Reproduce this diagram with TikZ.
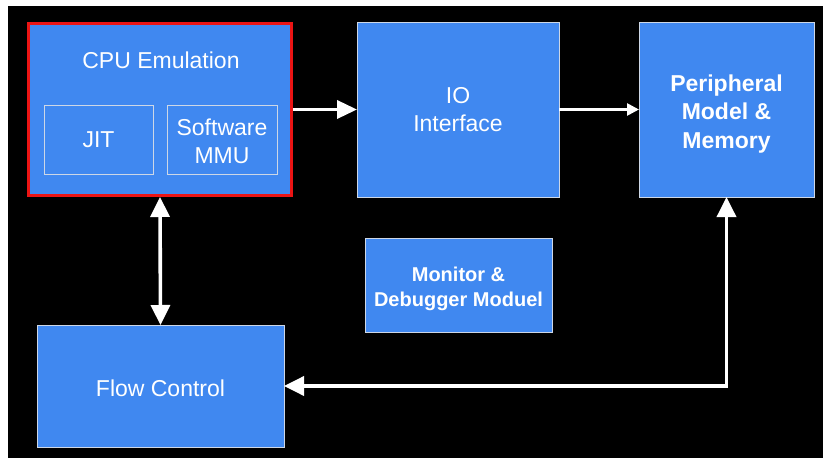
\documentclass[tikz,border=0pt]{standalone}
\usepackage{fontspec}
\setmainfont{Liberation Sans}
\usetikzlibrary{arrows.meta}
\definecolor{boxblue}{RGB}{64,136,240}
\definecolor{edgegray}{RGB}{205,215,230}
\definecolor{redframe}{RGB}{235,20,20}
\newcommand{\lift}[1]{\rule{0pt}{#1}}
\begin{document}
\begin{tikzpicture}[x=1pt,y=-1pt,
  blk/.style={draw=edgegray, line width=0.8pt, fill=boxblue, text=white, align=center, inner sep=0pt, outer sep=0pt},
  sub/.style={draw=edgegray, line width=0.8pt, fill=boxblue, text=white, align=center, inner sep=0pt, outer sep=0pt},
  reg/.style={font=\fontsize{23}{28}\selectfont},
  bld/.style={font=\fontsize{23}{28.5}\selectfont\bfseries},
  bigarrow/.style={draw=white, line width=3.6pt, -{Triangle[length=20pt,width=18pt]}},
  bigdouble/.style={draw=white, line width=3.6pt, {Triangle[length=20pt,width=19pt]}-{Triangle[length=20pt,width=19pt]}},
  smallarrow/.style={draw=white, line width=2.6pt, -{Triangle[length=12pt,width=12pt]}}
]
\useasboundingbox (0,0) rectangle (823,458);
\fill[white] (0,0) rectangle (823,458);
\fill[black] (8,6) rectangle (823,458);

% CPU Emulation block
\node[draw=redframe, line width=3pt, fill=boxblue, minimum width=263pt, minimum height=172pt, inner sep=0pt] (cpu) at (160,109.5) {};
\node[text=white, reg] (cputitle) at (161,60) {CPU Emulation};
\node[sub, reg, minimum width=109pt, minimum height=69pt] (jit) at (98.5,139.5) {JIT};
\node[sub, reg, minimum width=110pt, minimum height=69pt] (mmu) at (222,139.5) {\lift{20.8pt}Software\\MMU};

% IO Interface
\node[blk, reg, minimum width=202pt, minimum height=175pt] (io) at (458,109.5) {IO\\Interface};

% Peripheral
\node[blk, bld, minimum width=175pt, minimum height=175pt] (per) at (726.5,109.5) {\lift{25pt}Peripheral\\Model \&\\Memory};

% Monitor
\node[blk, font=\fontsize{20}{25}\selectfont\bfseries, minimum width=187pt, minimum height=94pt] (mon) at (458.5,285) {\lift{22.6pt}Monitor \&\\Debugger Moduel};

% Flow Control
\node[blk, reg, minimum width=247pt, minimum height=122pt] (flow) at (160.5,386) {\lift{20.8pt}Flow Control};

% connectors
\draw[bigarrow] (cpu.east) -- (io.west);
\draw[smallarrow] (io.east) -- (per.west);
\draw[bigdouble] (cpu.south) -- (flow.north);
\draw[bigdouble] (per.south) |- (flow.east);
\end{tikzpicture}
\end{document}
